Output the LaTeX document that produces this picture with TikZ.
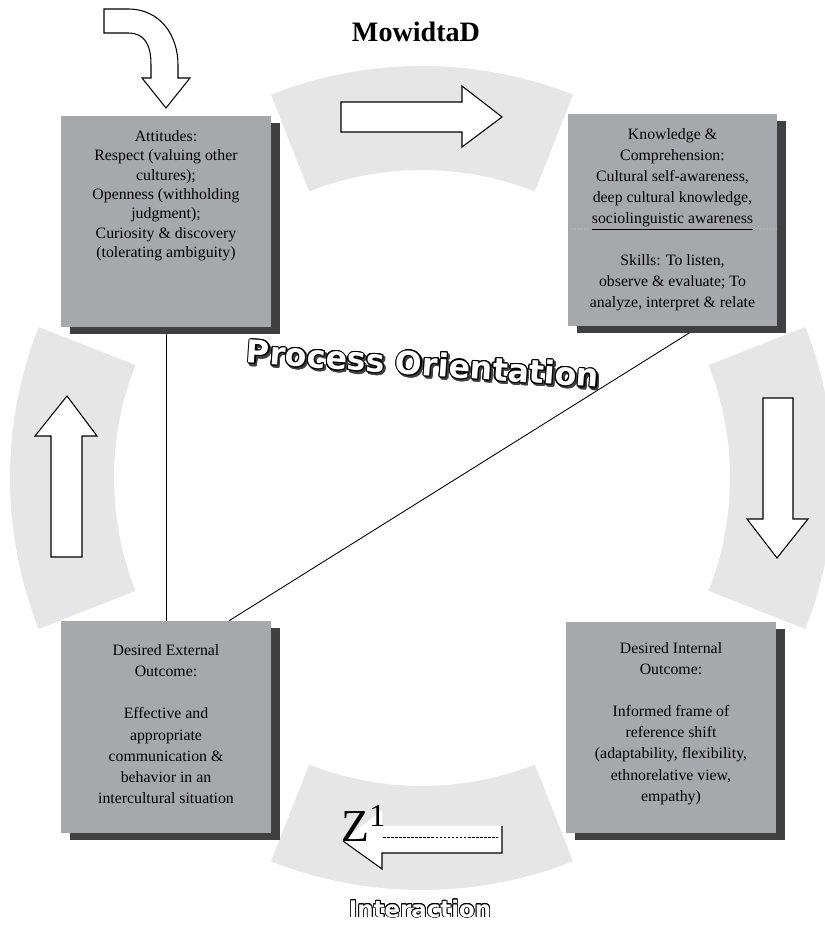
\documentclass[tikz,border=0pt]{standalone}
\usepackage{fontspec}
\setmainfont{Liberation Serif}
\newfontfamily\roundfont{DejaVu Sans}
\usepackage{contour}
\usetikzlibrary{positioning,calc,shadows}
\definecolor{boxgray}{RGB}{167,168,172}
\definecolor{shadowgray}{RGB}{64,64,64}
\definecolor{ringgray}{RGB}{230,230,230}
\pgfdeclarelayer{background}
\pgfsetlayers{background,main}
\tikzset{
  box/.style={rectangle, fill=boxgray, minimum width=4.2cm, minimum height=4.24cm, inner sep=0pt,
    drop shadow={shadow xshift=0.18cm, shadow yshift=-0.14cm, fill=shadowgray, opacity=1}},
  boxtext/.style={align=center, font=\fontsize{9}{12}\selectfont, inner sep=0pt},
  blockarrow/.style={draw=black, fill=white, line width=0.6pt, line join=miter},
  ringpart/.style={fill=ringgray},
  hollow/.style={font=\roundfont\bfseries, inner sep=0pt},
}

\begin{document}
\begin{tikzpicture}[x=0.02cm, y=0.02cm]
    \useasboundingbox (0,0) rectangle (825,930);
    \coordinate (ringc) at (422,452);
    % Ring of four light segments
    \begin{pgfonlayer}{background}
    \foreach \a/\b in {-21.5/21.5, 68.5/111.5, 158.5/201.5, 248.5/291.5}
      \fill[ringpart] ($(ringc)+(\a:412)$) arc[start angle=\a, end angle=\b, radius=412]
        -- ($(ringc)+(\b:308)$) arc[start angle=\b, end angle=\a, radius=308] -- cycle;
    \end{pgfonlayer}
    % Title
    \node[font=\bfseries\fontsize{16}{16}\selectfont, anchor=base] (title) at (416,888) {MowidtaD};
    % Boxes
    \node[box] (attitudes) at (166,708.5) {};
    \node[box] (knowledge) at (672.5,710) {};
    \node[box] (external) at (166,203) {};
    \node[box] (internal) at (671,202.5) {};
    \node[boxtext, font=\fontsize{9}{11}\selectfont, below=8.5pt of attitudes.north] (attitudestext)
      {Attitudes:\\Respect (valuing other\\cultures);\\Openness (withholding\\judgment);\\Curiosity \& discovery\\(tolerating ambiguity)};
    \node[boxtext, below=8pt of knowledge.north] (knowledgetext)
      {Knowledge \&\\Comprehension:\\Cultural self-awareness,\\deep cultural knowledge,\\\underline{sociolinguistic awareness}\\[12pt]Skills: To listen,\\observe \& evaluate; To\\analyze, interpret \& relate};
    \node[boxtext, below=13.5pt of external.north] (externaltext)
      {Desired External\\Outcome:\\[12pt]Effective and\\appropriate\\communication \&\\behavior in an\\intercultural situation};
    \node[boxtext, below=12pt of internal.north] (internaltext)
      {Desired Internal\\Outcome:\\[12pt]Informed frame of\\reference shift\\(adaptability, flexibility,\\ethnorelative view,\\empathy)};
    \draw[gray!60, densely dotted, line width=0.8pt] (571,701) -- (588,701);
    \draw[gray!60, densely dotted, line width=0.8pt] (757,701) -- (776,701);
    % Lines between the boxes
    \begin{pgfonlayer}{background}
    \draw[line width=0.5pt] (attitudes.south) -- (external.north);
    \draw[line width=0.5pt] ($(knowledge.south west)!0.63!(knowledge.south east)$)
      -- ($(external.north west)!0.8!(external.north east)$);
    \end{pgfonlayer}
    % Block arrows on the ring
    \draw[blockarrow] (341,828) -- (462,828) -- (462,844) -- (502,813) -- (462,783) -- (462,798) -- (341,798) -- cycle;
    \draw[blockarrow] (763,532) -- (793,532) -- (793,411) -- (808,411) -- (777,372) -- (747,411) -- (763,411) -- cycle;
    \draw[blockarrow] (51,373) -- (82,373) -- (82,494) -- (97,494) -- (67,534) -- (35,494) -- (51,494) -- cycle;
    \fill[white] (502,104) -- (502,77) -- (382,77) -- (382,61) -- (343,89) -- (382,120) -- (382,104) -- cycle;
    \draw[line width=0.6pt, line join=miter] (502,104) -- (502,77) -- (382,77) -- (382,61) -- (343,89);
    \node[font=\fontsize{26}{26}\selectfont, anchor=base west, inner sep=0pt] (zmark) at (341,88) {Z\textsuperscript{1}};
    \draw[dashed, dash pattern=on 1.5pt off 0.8pt, line width=0.4pt] (383,93) -- (498,93);
    % Bent arrow into the first box
    \draw[blockarrow] (104,921) -- (128,921) .. controls (160,921) and (178,895) .. (178,865) -- (178,852)
      -- (190,852) -- (166,822) -- (142,852) -- (151,852) -- (151,865)
      .. controls (151,885) and (145,897) .. (128,897) -- (104,897) -- cycle;
    % Outlined labels
    \node[hollow, font=\roundfont\bfseries\fontsize{18}{18}\selectfont, rotate=-4, xshift=1.1pt, yshift=-1.1pt] (processshadow) at (423,566)
      {\contourlength{0.6pt}\contour{shadowgray}{\textcolor{shadowgray}{Process Orientation}}};
    \node[hollow, font=\roundfont\bfseries\fontsize{18}{18}\selectfont, rotate=-4] (process) at (423,566)
      {\contourlength{0.6pt}\contour{black}{\textcolor{white}{Process Orientation}}};
    \node[hollow, font=\roundfont\bfseries\fontsize{13}{13}\selectfont] (interaction) at (420,21)
      {\contourlength{0.45pt}\contour{black}{\textcolor{white}{Interaction}}};
\end{tikzpicture}
\end{document}
